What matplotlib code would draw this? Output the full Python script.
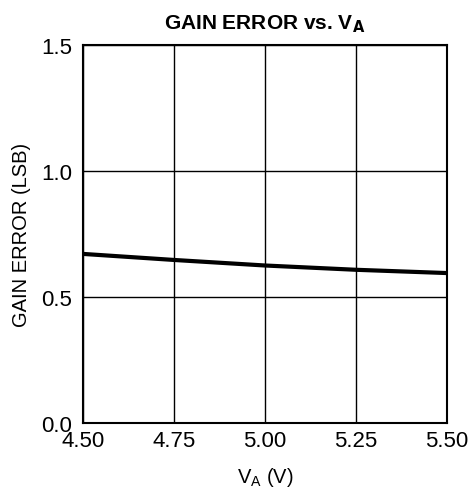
import matplotlib
matplotlib.use("Agg")
import matplotlib.pyplot as plt

va = [4.50, 4.75, 5.00, 5.25, 5.50]
gain_error = [0.671, 0.647, 0.625, 0.608, 0.595]
xticks = [4.50, 4.75, 5.00, 5.25, 5.50]
xtick_labels = ["4.50", "4.75", "5.00", "5.25", "5.50"]
yticks = [0.0, 0.5, 1.0, 1.5]
ytick_labels = ["0.0", "0.5", "1.0", "1.5"]

plt.rcParams['font.family'] = ['Liberation Sans', 'DejaVu Sans']

fig = plt.figure(figsize=(4.69, 4.89), dpi=100)
ax = fig.add_axes([83/469, 65/489, 364/469, 378/489])
ax.plot(va, gain_error, color='black', lw=3.0, solid_capstyle='butt')
ax.set_xlim(4.5, 5.5)
ax.set_ylim(0, 1.5)
ax.set_xticks(xticks)
ax.set_xticklabels(xtick_labels)
ax.set_yticks(yticks)
ax.set_yticklabels(ytick_labels)
ax.grid(True, color='black', lw=1.0)
ax.tick_params(length=0, labelsize=16)
ax.tick_params(axis='x', pad=5)
ax.tick_params(axis='y', pad=8)
for s in ax.spines.values():
    s.set_linewidth(1.5)
    s.set_color('black')
ax.set_xlabel(r'V$_\mathregular{A}$ (V)', fontsize=14.5, labelpad=10)
ax.set_ylabel('GAIN ERROR (LSB)', fontsize=14.5, labelpad=7)
ax.set_title(r'GAIN ERROR vs. V$_\mathbf{A}$', fontsize=15, fontweight='bold', pad=12)
fig.savefig('out.png', dpi=100)
